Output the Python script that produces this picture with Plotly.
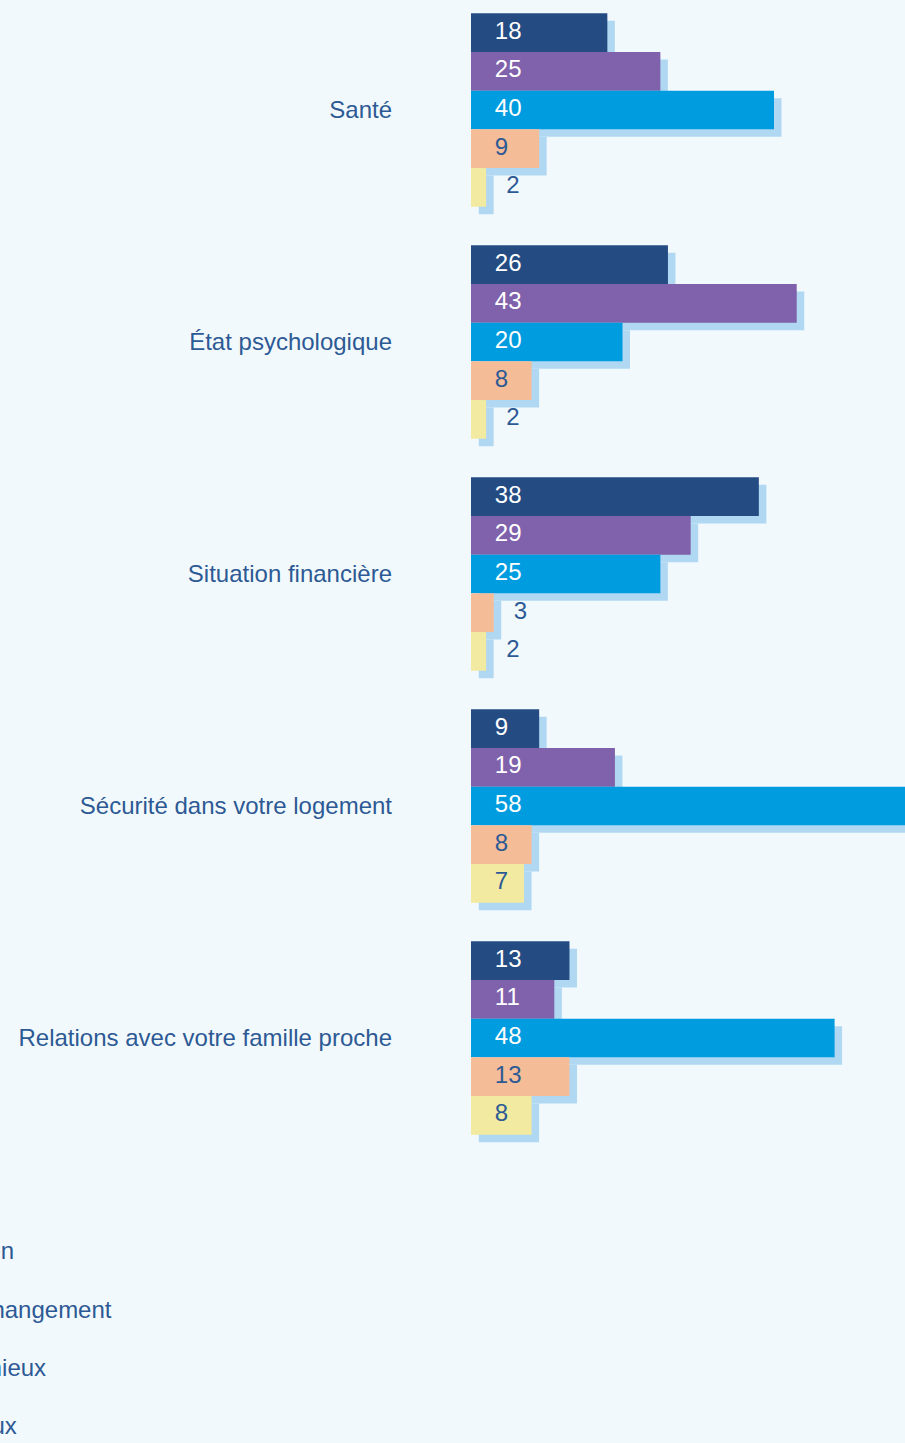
import numpy as np
import plotly.graph_objects as go

# data
categories = ["Santé", "État psychologique", "Situation financière",
              "Sécurité dans votre logement", "Relations avec votre famille proche"]
series_names = ["Beaucoup moins bien", "Moins bien", "Pas de changement", "Un peu mieux", "Bien mieux"]
beaucoup_moins = [18, 26, 38, 9, 13]
moins = [25, 43, 29, 19, 11]
pas_changement = [40, 20, 25, 58, 48]
un_peu_mieux = [9, 8, 3, 8, 13]
bien_mieux = [2, 2, 2, 7, 8]
series_values = [beaucoup_moins, moins, pas_changement, un_peu_mieux, bien_mieux]

colors = ["#244c83", "#8061ab", "#009ce0", "#f5bc98", "#f1eaa0"]
label_colors = ["white", "white", "white", "#2d5a94", "#2d5a94"]
legend_rank = [5, 1, 2, 3, 4]
shadow = "#b0d8f2"
bg = "#f2f9fd"
FONT = "Liberation Sans, Arial, sans-serif"

W, H = 905, 1443
x0_px = 471          # left edge of bars
px_per_unit = 7.575  # horizontal scale
slot_px = 232        # height of a category slot
top_px = -6          # top of first slot
plot_h = 1160
off = 7.5            # shadow offset

bargap = 0.166
bar_w = (1 - bargap) / len(series_names)
ylo = -0.5 + (0 - top_px) / slot_px
yrange = [ylo + plot_h / slot_px, ylo]
ypos = np.arange(len(categories))

fig = go.Figure()

# shadows first (subplot xy, shifted right and down)
for j, vals in enumerate(series_values):
    fig.add_trace(go.Bar(y=ypos, x=vals, orientation="h", marker_color=shadow,
                         marker_line_width=0, showlegend=False, hoverinfo="skip",
                         xaxis="x", yaxis="y"))

# main bars
for j, vals in enumerate(series_values):
    fig.add_trace(go.Bar(y=ypos, x=vals, orientation="h", name=series_names[j],
                         marker_color=colors[j], marker_line_width=0,
                         legendrank=legend_rank[j], legendgroup=series_names[j],
                         xaxis="x2", yaxis="y2"))

# value labels
for j, vals in enumerate(series_values):
    v = np.array(vals)
    lx = np.where(v < 5, v + 2.66, 3.15)
    ly = ypos + (j - 2) * bar_w
    tc = [label_colors[j] if val >= 5 else "#2d5a94" for val in v]
    fig.add_trace(go.Scatter(x=lx, y=ly, mode="text", text=[str(val) for val in v],
                             textposition="middle right",
                             textfont=dict(size=24, color=tc, family=FONT),
                             showlegend=False, hoverinfo="skip",
                             xaxis="x2", yaxis="y2"))

xmax_main = (W - x0_px) / px_per_unit
xmax_sh = (W - x0_px - off) / px_per_unit

fig.update_layout(
    width=W, height=H,
    margin=dict(l=0, r=0, t=0, b=0, autoexpand=False),
    paper_bgcolor=bg, plot_bgcolor="rgba(0,0,0,0)",
    barmode="group", bargap=bargap, bargroupgap=0,
    font=dict(family=FONT, size=24, color="#2d5a94"),
    xaxis=dict(domain=[(x0_px + off) / W, 1], range=[0, xmax_sh], visible=False),
    yaxis=dict(domain=[1 - (plot_h + off) / H, 1 - off / H], range=yrange, visible=False),
    xaxis2=dict(domain=[x0_px / W, 1], range=[0, xmax_main], visible=False, anchor="y2"),
    yaxis2=dict(domain=[1 - plot_h / H, 1], range=yrange, anchor="x2",
                tickvals=ypos, ticktext=categories, showgrid=False, zeroline=False,
                showline=False, ticks="", ticklabelstandoff=78,
                tickfont=dict(size=24, color="#2d5a94")),
    legend=dict(x=-142 / W, xanchor="left", y=1 - 1228 / H, yanchor="top",
                bgcolor="rgba(0,0,0,0)", font=dict(size=24, color="#2d5a94"),
                tracegroupgap=24, traceorder="grouped"),
    showlegend=True,
)

fig.write_html("out.html", config={"displayModeBar": False},
               post_script="document.body.style.margin='0';"
                           "document.body.style.overflow='hidden';"
                           "document.body.style.background='" + bg + "';")
